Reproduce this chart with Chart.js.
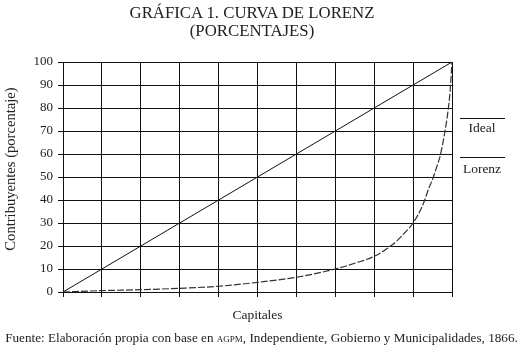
<!DOCTYPE html>
<html lang="es">
<head>
<meta charset="utf-8">
<title>Gráfica 1. Curva de Lorenz</title>
<script src="https://cdn.jsdelivr.net/npm/chart.js"></script>
<style>
  body { margin: 0; background: #fff; }
  #wrap { position: relative; width: 523px; height: 352px; font-family: "Liberation Serif", "DejaVu Serif", serif; color: #222; }
  #wrap canvas { position: absolute; left: 0; top: 0; }
  .title { position: absolute; left: 0; width: 504px; text-align: center; font-size: 16.8px; line-height: 18px; top: 4px; }
  .fuente { position: absolute; left: 0; width: 523px; text-align: center; font-size: 13.2px; top: 330px; white-space: nowrap; }
  .sc { font-variant: small-caps; }
</style>
</head>
<body>
<div id="wrap">
  <canvas id="lorenz" width="523" height="352"></canvas>
  <div class="title">GRÁFICA 1. CURVA DE LORENZ<br>(PORCENTAJES)</div>
  <div class="fuente">Fuente: Elaboración propia con base en <span class="sc">agpm</span>, Independiente, Gobierno y Municipalidades, 1866.</div>
</div>

<script>
  // Datos (porcentajes acumulados)
  const idealX = [0, 100];
  const idealY = [0, 100];
  const lorenzX = [0, 10, 20, 30, 40, 50, 60, 70, 75, 80, 85, 88, 90, 92, 93, 94, 95, 96, 97, 98, 99, 99.5, 100];
  const lorenzY = [0, 0.6, 1.0, 1.6, 2.5, 4.2, 6.4, 10, 12.5, 15.5, 21, 26, 30, 36, 40, 45, 49, 54, 59.5, 68, 79, 87, 100];
  const yTicks = [0, 10, 20, 30, 40, 50, 60, 70, 80, 90, 100];
  const legendLabels = ['Ideal', 'Lorenz'];
  const yTitle = 'Contribuyentes (porcentaje)';

  const serif = '"Liberation Serif", "DejaVu Serif", serif';
  const pts = (xs, ys) => xs.map((x, i) => ({ x: x, y: ys[i] }));

  // leyenda a la derecha (raya encima de cada nombre) y titulo del eje y
  const sideText = {
    id: 'sideText',
    afterDraw(chart) {
      const ctx = chart.ctx;
      ctx.save();
      ctx.strokeStyle = '#111';
      ctx.lineWidth = 1;
      ctx.fillStyle = '#222';
      ctx.font = '13.5px ' + serif;
      ctx.textAlign = 'center';
      ctx.textBaseline = 'middle';
      legendLabels.forEach((lbl, i) => {
        const y = 118.5 + i * 39;
        ctx.beginPath();
        ctx.moveTo(460, y);
        ctx.lineTo(505, y);
        ctx.stroke();
        ctx.fillText(lbl, 482, y + 10 + i * 1.5);
      });
      ctx.translate(11, 169);
      ctx.rotate(-Math.PI / 2);
      ctx.font = '14.6px ' + serif;
      ctx.fillText(yTitle, 0, 0);
      ctx.restore();
    }
  };

  new Chart(document.getElementById('lorenz'), {
    type: 'line',
    data: {
      datasets: [
        {
          label: 'Ideal',
          data: pts(idealX, idealY),
          borderColor: '#111',
          borderWidth: 1,
          pointRadius: 0,
          tension: 0
        },
        {
          label: 'Lorenz',
          data: pts(lorenzX, lorenzY),
          borderColor: '#333',
          borderWidth: 1.2,
          borderDash: [7, 2],
          pointRadius: 0,
          cubicInterpolationMode: 'monotone'
        }
      ]
    },
    options: {
      responsive: false,
      animation: false,
      layout: { padding: { top: 62, right: 71, bottom: 28, left: 0 } },
      plugins: {
        legend: { display: false },
        tooltip: { enabled: false }
      },
      scales: {
        x: {
          type: 'linear',
          min: 0,
          max: 100,
          ticks: { stepSize: 10, display: false },
          grid: { color: '#111', lineWidth: 1, tickLength: 5 },
          border: { color: '#111' },
          title: {
            display: true,
            text: 'Capitales',
            color: '#222',
            font: { family: serif, size: 13.5 },
            padding: { top: 0, bottom: 0 }
          },
          afterFit(scale) { scale.height = 32; }
        },
        y: {
          min: 0,
          max: 100,
          afterBuildTicks(scale) { scale.ticks = yTicks.map(v => ({ value: v })); },
          ticks: {
            color: '#222',
            padding: 5,
            font: { family: serif, size: 13 }
          },
          grid: { color: '#111', lineWidth: 1, tickLength: 5 },
          border: { color: '#111' },
          title: { display: false },
          afterFit(scale) { scale.width = 63; }
        }
      }
    },
    plugins: [sideText]
  });
</script>
</body>
</html>
